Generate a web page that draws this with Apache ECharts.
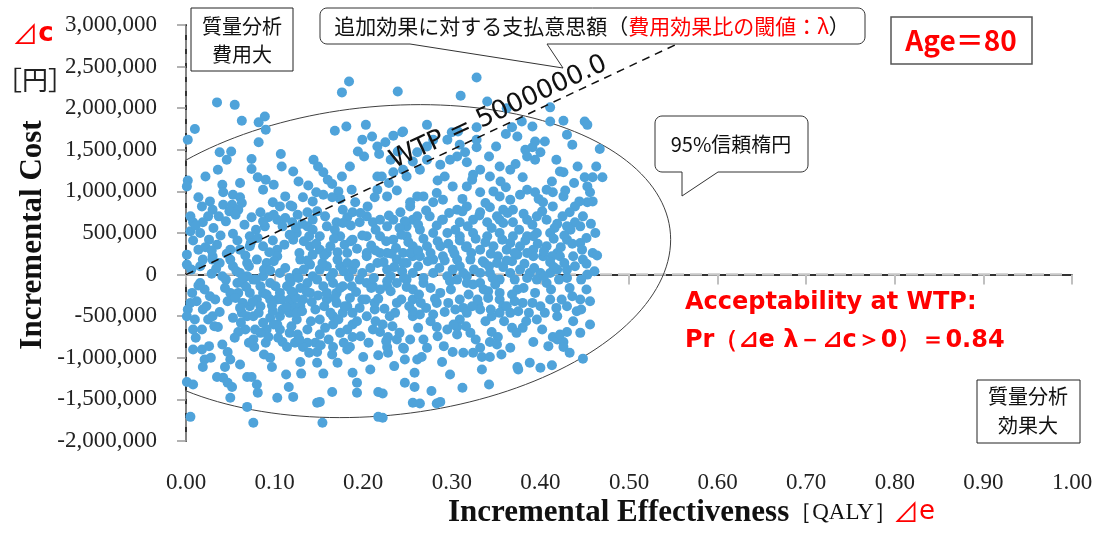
<!DOCTYPE html>
<html><head><meta charset="utf-8">
<script src="https://cdn.jsdelivr.net/npm/echarts/dist/echarts.min.js"></script>
<style>html,body{margin:0;padding:0;background:#fff}#c{width:1099px;height:533px}</style>
</head><body><div id="c"></div>
<script>
// Monte-Carlo simulation points: [incremental effectiveness (QALY), incremental cost (thousand yen)]
const simPoints = [
[0.176,2190],[0.184,2320],[0.239,2200],[0.035,2070],[0.055,2040],[0.063,1850],[0.082,1830],[0.089,1900],[0.090,1740],[0.010,1750],
[0.002,1620],[0.082,1590],[0.168,1730],[0.181,1780],[0.203,1800],[0.199,1620],[0.210,1660],[0.216,1540],[0.225,1590],[0.234,1670],
[0.244,1710],[0.194,1480],[0.218,1450],[0.231,1380],[0.239,1480],[0.038,1470],[0.051,1480],[0.046,1380],[0.107,1450],[0.074,1390],
[0.074,1270],[0.036,1260],[0.121,1240],[0.185,1300],[0.144,1380],[0.149,1300],[0.155,1230],[0.160,1140],[0.165,1090],[0.081,1170],
[0.090,1140],[0.087,1020],[0.099,1080],[0.041,1080],[0.002,1130],[0.001,1060],[0.216,1180],[0.221,1180],[0.234,1230],[0.245,1260],
[0.216,1020],[0.227,940],[0.213,930],[0.172,1000],[0.187,1020],[0.174,910],[0.138,1070],[0.132,930],[0.143,880],[0.155,960],
[0.165,930],[0.042,990],[0.053,960],[0.061,930],[0.014,930],[0.018,820],[0.030,780],[0.042,840],[0.052,840],[0.049,760],
[0.037,700],[0.059,780],[0.025,700],[0.005,700],[0.008,630],[0.019,630],[0.005,520],[0.016,500],[0.026,420],[0.014,300],
[0.001,240],[0.035,360],[0.053,490],[0.072,460],[0.074,690],[0.084,750],[0.093,690],[0.089,580],[0.098,870],[0.106,820],
[0.120,820],[0.103,660],[0.109,580],[0.120,630],[0.126,720],[0.137,750],[0.143,660],[0.148,760],[0.125,500],[0.137,580],
[0.121,420],[0.143,540],[0.151,460],[0.159,580],[0.170,630],[0.177,780],[0.182,690],[0.188,750],[0.196,630],[0.204,700],
[0.211,630],[0.219,660],[0.227,580],[0.234,660],[0.242,750],[0.253,820],[0.256,660],[0.261,940],[0.204,460],[0.219,460],
[0.234,420],[0.249,460],[0.256,340],[0.188,420],[0.174,460],[0.163,340],[0.151,300],[0.140,340],[0.087,340],[0.072,340],
[0.061,300],[0.050,300],[0.103,300],[0.182,260],[0.204,260],[0.227,260],[0.245,260],[0.030,220],
[0.001,120],[0.016,100],[0.029,10],[0.041,-20],[0.016,-100],[0.021,-180],[0.027,-260],[0.012,-320],[0.005,-340],[0.002,-420],
[0.001,-500],[0.010,-540],[0.019,-420],[0.025,-540],[0.008,-660],[0.018,-660],[0.036,-630],[0.050,-220],[0.047,-320],[0.053,-520],
[0.041,-840],[0.047,-930],[0.050,-1020],[0.044,-1110],[0.008,-900],[0.018,-900],[0.021,-1020],[0.019,-1110],[0.035,-1230],[0.042,-1240],
[0.047,-1300],[0.052,-1350],[0.050,-1480],[0.001,-1290],[0.008,-1320],[0.005,-1710],[0.069,-1230],[0.074,-1230],[0.080,-1320],[0.081,-1420],
[0.069,-1590],[0.076,-1780],[0.103,-1480],[0.121,-1470],[0.095,-1000],[0.097,-1110],[0.090,-820],[0.077,-870],[0.129,-1050],[0.130,-1190],
[0.148,-1060],[0.155,-1190],[0.148,-930],[0.146,-820],[0.151,-720],[0.165,-960],[0.166,-870],[0.182,-900],[0.185,-870],[0.200,-990],
[0.208,-1140],[0.217,-970],[0.228,-940],[0.148,-1540],[0.151,-1530],[0.165,-1410],[0.193,-1300],[0.193,-1420],[0.217,-1410],[0.222,-1430],
[0.154,-1780],[0.217,-1710],[0.222,-1720],[0.256,-1540],[0.258,-1350],[0.258,-1180],[0.261,-1020],[0.253,-780],[0.246,-890],[0.238,-780],
[0.228,-750],[0.227,-870],[0.219,-690],[0.211,-660],[0.222,-600],[0.230,-500],[0.238,-340],[0.256,-500],[0.264,-480],[0.213,-420],
[0.213,-340],[0.204,-500],[0.199,-300],[0.188,-600],[0.188,-750],[0.182,-660],[0.174,-700],[0.166,-600],[0.166,-500],[0.177,-460],
[0.188,-460],[0.170,-340],[0.182,-380],[0.185,-280],[0.159,-300],[0.159,-220],[0.170,-220],[0.177,-140],[0.166,-100],[0.155,-140],
[0.146,-420],[0.151,-540],[0.137,-660],[0.125,-540],[0.117,-700],[0.109,-810],[0.114,-870],[0.123,-820],[0.137,-820],[0.132,-870],
[0.126,-720],[0.106,-660],[0.103,-600],[0.106,-500],[0.095,-520],[0.091,-660],[0.093,-750],[0.098,-440],[0.109,-420],[0.117,-460],
[0.121,-380],[0.117,-300],[0.103,-300],[0.106,-220],[0.114,-140],[0.121,-220],[0.129,-160],[0.132,-300],[0.140,-220],[0.137,-100],
[0.143,-20],[0.151,60],[0.159,100],[0.166,20],[0.174,100],[0.182,140],[0.188,60],[0.196,-60],[0.204,-100],[0.211,-140],
[0.219,-180],[0.227,-140],[0.238,-100],[0.249,-60],[0.256,20],[0.227,60],[0.216,140],[0.204,220],[0.219,260],[0.238,180],
[0.249,140],[0.256,220],[0.159,260],[0.143,240],[0.140,120],[0.129,180],[0.125,20],[0.117,-40],[0.106,20],[0.103,220],
[0.091,140],[0.087,-20],[0.095,-100],[0.084,-140],[0.087,-220],[0.076,-60],[0.069,-20],[0.061,20],[0.064,-100],[0.072,-220],
[0.080,-300],[0.072,-380],[0.069,-500],[0.076,-500],[0.064,-340],[0.063,-460],[0.059,-220],[0.058,-100],[0.053,100],[0.050,180],
[0.069,140],[0.080,180],[0.038,140],[0.030,180],[0.084,-380],[0.095,-300],[0.087,-580],[0.078,-660],[0.076,-780],[0.067,-660],
[0.059,-690],[0.030,-500],[0.129,-380],[0.125,-460],
[0.328,2370],[0.310,2150],[0.340,2080],[0.362,2000],[0.411,2010],[0.426,1850],[0.450,1840],[0.453,1800],[0.467,1510],[0.411,1840],
[0.391,1780],[0.379,1840],[0.368,1770],[0.328,1770],[0.307,1720],[0.300,1710],[0.295,1620],[0.272,1800],[0.245,1720],[0.272,1540],
[0.279,1620],[0.309,1560],[0.328,1620],[0.328,1530],[0.350,1540],[0.361,1690],[0.374,1660],[0.394,1600],[0.405,1600],[0.430,1680],
[0.436,1560],[0.383,1500],[0.385,1420],[0.394,1380],[0.400,1470],[0.391,1530],[0.442,1300],[0.426,1230],[0.422,1240],[0.450,1170],
[0.459,1170],[0.470,1170],[0.453,1060],[0.456,990],[0.459,880],[0.453,870],[0.439,820],[0.433,750],[0.439,630],[0.462,500],
[0.445,380],[0.459,260],[0.430,580],[0.414,820],[0.414,990],[0.413,1120],[0.407,1020],[0.394,990],[0.385,1020],[0.380,1170],
[0.366,1260],[0.354,1300],[0.343,1180],[0.332,1260],[0.324,1200],[0.317,1350],[0.306,1420],[0.298,1380],[0.315,1470],[0.292,1180],
[0.287,1320],[0.272,1380],[0.264,1260],[0.249,1180],[0.261,1470],[0.301,1060],[0.317,1060],[0.323,1140],[0.332,990],[0.347,1000],
[0.354,940],[0.366,900],[0.377,960],[0.369,780],[0.358,780],[0.343,810],[0.332,750],[0.317,820],[0.306,780],[0.290,900],
[0.279,870],[0.268,940],[0.253,870],[0.261,700],[0.275,700],[0.290,660],[0.309,630],[0.324,660],[0.340,630],[0.354,660],
[0.369,630],[0.385,660],[0.396,700],[0.407,660],[0.396,500],[0.385,460],[0.369,460],[0.354,500],[0.340,460],[0.324,500],
[0.309,460],[0.295,500],[0.279,500],[0.264,540],[0.249,580],[0.272,340],[0.287,340],[0.301,300],[0.317,340],[0.332,300],
[0.347,340],[0.362,300],[0.377,340],[0.392,300],[0.407,340],[0.419,260],[0.430,420],[0.445,580],[0.411,500],[0.426,940],
[0.403,870],
[0.464,230],[0.448,180],[0.437,220],[0.422,220],[0.413,220],[0.403,220],[0.392,220],[0.385,260],[0.374,240],[0.368,160],
[0.352,220],[0.351,140],[0.335,160],[0.321,180],[0.306,180],[0.290,220],[0.279,180],[0.264,220],[0.253,260],[0.245,140],
[0.279,20],[0.295,-20],[0.301,60],[0.317,-20],[0.332,20],[0.343,20],[0.354,-60],[0.366,20],[0.377,60],[0.388,20],
[0.400,20],[0.411,20],[0.419,60],[0.430,60],[0.430,-40],[0.453,0],[0.407,-100],[0.396,-60],[0.385,-40],[0.374,-180],
[0.354,-220],[0.341,-200],[0.332,-100],[0.324,-120],[0.317,-100],[0.306,-60],[0.287,-220],[0.268,-100],[0.256,-180],[0.256,-300],
[0.283,-340],[0.296,-340],[0.309,-300],[0.313,-400],[0.330,-360],[0.341,-280],[0.354,-300],[0.358,-380],[0.354,-460],[0.366,-460],
[0.375,-440],[0.380,-340],[0.391,-340],[0.400,-380],[0.411,-300],[0.419,-500],[0.430,-380],[0.436,-260],[0.445,-300],[0.456,-320],
[0.441,-440],[0.396,-540],[0.380,-640],[0.368,-640],[0.345,-500],[0.332,-420],[0.317,-460],[0.309,-540],[0.306,-630],[0.295,-660],
[0.283,-630],[0.279,-480],[0.256,-440],[0.306,-720],[0.321,-700],[0.345,-690],[0.352,-750],[0.343,-810],[0.351,-840],[0.366,-880],
[0.392,-810],[0.414,-750],[0.419,-780],[0.426,-810],[0.426,-870],[0.430,-690],[0.422,-720],[0.268,-780],[0.272,-880],[0.245,-880],
[0.266,-990],[0.247,-1020],[0.301,-930],[0.313,-940],[0.324,-940],[0.332,-880],[0.334,-990],[0.343,-990],[0.334,-1140],[0.374,-1110],
[0.375,-1140],[0.400,-1120],[0.413,-1090],[0.448,-1010],[0.312,-1360],[0.342,-1320],[0.264,-1550],[0.283,-1550],[0.287,-1530]
];
// points in the densely overlapped core of the cloud (estimated where markers overlap)
const simPointsCore = [
[0.027,880],[0.063,860],[0.112,940],[0.147,990],[0.191,870],[0.238,1010],[0.283,980],[0.312,910],[0.338,860],[0.361,1050],
[0.398,910],[0.428,1010],[0.444,880],[0.118,830],[0.205,820],
[0.011,590],[0.031,560],[0.045,640],[0.066,600],[0.079,540],[0.099,720],[0.112,680],[0.131,610],[0.157,700],[0.168,540],
[0.186,590],[0.197,740],[0.214,540],[0.229,710],[0.247,640],[0.262,600],[0.271,770],[0.283,590],[0.297,740],[0.304,540],
[0.318,580],[0.331,710],[0.345,560],[0.358,620],[0.363,740],[0.376,540],[0.391,600],[0.402,760],[0.419,610],[0.425,700],
[0.434,540],[0.448,700],[0.457,610],[0.056,720],[0.087,640],[0.124,560],[0.177,620],[0.241,560],[0.289,660],[0.312,760],
[0.351,700],[0.381,730],[0.416,560],
[0.008,410],[0.022,330],[0.039,470],[0.046,250],[0.058,410],[0.067,230],[0.081,440],[0.094,270],[0.098,410],[0.111,360],
[0.117,480],[0.128,260],[0.133,400],[0.147,370],[0.156,230],[0.167,430],[0.171,270],[0.179,360],[0.193,310],[0.199,470],
[0.209,350],[0.214,290],[0.226,400],[0.237,320],[0.243,480],[0.251,390],[0.262,290],[0.268,430],[0.276,260],[0.284,400],
[0.296,370],[0.303,250],[0.309,410],[0.322,260],[0.327,430],[0.338,390],[0.344,250],[0.357,420],[0.366,380],[0.371,260],
[0.383,410],[0.397,370],[0.404,280],[0.415,430],[0.423,330],[0.436,370],[0.447,300],[0.452,440],[0.029,290],[0.073,380],
[0.139,460],[0.186,400],[0.232,250],[0.316,330],[0.392,460],[0.427,470],
[0.006,60],[0.019,180],[0.034,70],[0.045,-60],[0.057,40],[0.071,100],[0.079,-60],[0.088,60],[0.099,160],[0.112,80],
[0.118,-90],[0.133,60],[0.137,170],[0.148,-60],[0.154,140],[0.163,-30],[0.171,180],[0.178,40],[0.191,130],[0.199,20],
[0.208,80],[0.212,-40],[0.223,150],[0.231,-20],[0.235,90],[0.244,40],[0.262,100],[0.268,-40],[0.273,160],[0.286,80],
[0.292,170],[0.298,-80],[0.309,100],[0.313,20],[0.325,60],[0.337,140],[0.346,-40],[0.358,90],[0.362,170],[0.371,-60],
[0.382,130],[0.393,80],[0.404,-20],[0.411,150],[0.421,-60],[0.427,140],[0.439,100],[0.446,-60],[0.452,130],[0.461,40],
[0.064,-40],[0.095,50],[0.127,-40],[0.184,-30],[0.246,-40],[0.342,100],[0.415,90],
[0.007,-220],[0.014,-130],[0.023,-380],[0.033,-300],[0.038,-450],[0.044,-160],[0.056,-280],[0.061,-400],[0.068,-150],[0.075,-330],
[0.082,-460],[0.091,-240],[0.097,-370],[0.101,-140],[0.108,-300],[0.113,-390],[0.124,-280],[0.131,-440],[0.136,-200],[0.142,-330],
[0.149,-250],[0.156,-380],[0.163,-460],[0.168,-280],[0.174,-160],[0.179,-380],[0.192,-210],[0.196,-400],[0.203,-300],[0.209,-160],
[0.217,-290],[0.224,-410],[0.231,-200],[0.236,-460],[0.243,-300],[0.249,-150],[0.252,-380],[0.263,-240],[0.271,-400],[0.276,-160],
[0.281,-290],[0.292,-450],[0.299,-180],[0.304,-420],[0.319,-240],[0.323,-380],[0.336,-180],[0.344,-420],[0.349,-120],[0.362,-380],
[0.368,-240],[0.381,-160],[0.387,-460],[0.394,-220],[0.405,-460],[0.412,-180],[0.424,-300],[0.433,-160],[0.446,-420],[0.452,-180],
[0.119,-200],[0.187,-140],[0.227,-80],[0.265,-340],[0.329,-300],[0.371,-320],[0.418,-400],
[0.011,-760],[0.026,-860],[0.032,-620],[0.055,-760],[0.062,-580],[0.071,-820],[0.084,-700],[0.099,-600],[0.104,-760],[0.119,-620],
[0.128,-780],[0.141,-560],[0.157,-640],[0.161,-780],[0.172,-540],[0.178,-820],[0.193,-560],[0.197,-740],[0.206,-820],[0.214,-560],
[0.233,-620],[0.241,-700],[0.262,-640],[0.276,-560],[0.284,-740],[0.291,-860],[0.302,-600],[0.316,-620],[0.327,-780],[0.338,-560],
[0.359,-560],[0.373,-700],[0.384,-560],[0.402,-660],[0.409,-860],[0.437,-560],[0.445,-700],[0.456,-600],[0.152,-850],[0.226,-800],
[0.022,1180],[0.061,1100],[0.108,1300],[0.127,1120],[0.176,1180],[0.201,1420],[0.229,1100],[0.256,1360],[0.284,1130],[0.342,1420],
[0.355,1120],[0.372,1330],[0.418,1380],[0.438,1100],[0.463,1300],
[0.028,-1000],[0.061,-1080],[0.088,-960],[0.113,-1200],[0.139,-940],[0.171,-1060],[0.188,-1180],[0.235,-1100],[0.247,-1300],[0.289,-1050],
[0.298,-1200],[0.356,-960],[0.388,-1060],[0.433,-940],[0.116,-1350],[0.277,-1400]
];

// Axis settings
const xMin = 0, xMax = 1, xStep = 0.1;
const yMin = -2000000, yMax = 3000000, yStep = 500000;

// Willingness to pay threshold (yen per QALY)
const wtpLambda = 5000000;
const acceptability = 0.84;

// 95% confidence ellipse parameters (data units)
const ellCenterX = 0.219, ellCenterY = 162000;
const ellAxisUx = 0.328, ellAxisUy = 258400;   // conjugate semi-axis U
const ellAxisVy = 1863000;                      // conjugate semi-axis V (vertical)

const scatterData = simPoints.concat(simPointsCore).map(p => [p[0], p[1] * 1000]);

const ellipseData = [];
for (let d = 0; d <= 360; d += 2) {
  const t = d * Math.PI / 180;
  ellipseData.push([ellCenterX + ellAxisUx * Math.cos(t),
                    ellCenterY + ellAxisUy * Math.cos(t) + ellAxisVy * Math.sin(t)]);
}
const wtpData = [[0, 0], [yMax / wtpLambda, yMax]];

function callout(x1, y1, x2, y2, r, tail) {
  const pts = [];
  const arc = (cx, cy, a0) => { for (let k = 0; k <= 6; k++) { const a = a0 + k * Math.PI / 12; pts.push([cx + r * Math.cos(a), cy + r * Math.sin(a)]); } };
  arc(x1 + r, y1 + r, Math.PI);
  arc(x2 - r, y1 + r, 1.5 * Math.PI);
  arc(x2 - r, y2 - r, 0);
  tail.forEach(p => pts.push(p));
  arc(x1 + r, y2 - r, 0.5 * Math.PI);
  return pts;
}

const JP = '"Noto Sans CJK JP"';
const RED = '#ff0000';
function txt(x, y, text, font, fill, align, extra) {
  return Object.assign({
    type: 'text', x: x, y: y, z: 100,
    style: Object.assign({ text: text, font: font, fill: fill || '#111',
      textAlign: align || 'center', align: align || 'center',
      textVerticalAlign: 'middle', verticalAlign: 'middle' }, (extra && extra.style) || {})
  }, (extra && extra.el) || {});
}

const chart = echarts.init(document.getElementById('c'));
chart.setOption({
  animation: false,
  backgroundColor: '#fff',
  grid: { left: 186, right: 27, top: 25, bottom: 92, containLabel: false },
  xAxis: {
    type: 'value', min: xMin, max: xMax, interval: xStep, offset: 15,
    axisLine: { show: true, lineStyle: { color: '#333', width: 2 } },
    axisTick: { show: true, length: 10, lineStyle: { color: '#c0c0c0', width: 2 } },
    axisLabel: { formatter: v => v.toFixed(2), fontFamily: '"Liberation Serif"', fontSize: 23, color: '#222', margin: 15 },
    splitLine: { show: false }
  },
  yAxis: {
    type: 'value', min: yMin, max: yMax, interval: yStep, offset: 13,
    axisLine: { show: true, lineStyle: { color: '#333', width: 2 } },
    axisTick: { show: true, length: 9, lineStyle: { color: '#999', width: 1.5 } },
    axisLabel: { formatter: v => v.toLocaleString('en-US'), fontFamily: '"Liberation Serif"', fontSize: 23, color: '#222', margin: 16 },
    splitLine: { show: false }
  },
  series: [
    { type: 'line', data: [[xMin, 0], [0.995, 0]], symbol: 'none', z: 1,
      lineStyle: { color: '#c8c8c8', width: 2.5, type: [12, 6] } },
    { type: 'line', data: [[0, yMin], [0, yMax]], symbol: 'none', z: 1,
      lineStyle: { color: '#a0a0a0', width: 1.5, type: [9, 5] } },
    { type: 'line', data: ellipseData, symbol: 'none', clip: true, z: 2,
      lineStyle: { color: '#404040', width: 1 } },
    { type: 'scatter', data: scatterData, symbolSize: 10, z: 3,
      itemStyle: { color: '#4fa3da', opacity: 1 } },
    { type: 'line', data: wtpData, symbol: 'none', clip: true, z: 4,
      lineStyle: { color: '#111', width: 1.5, type: [8, 6] } }
  ],
  graphic: [
    txt(33, 34, '{t|⊿}{c|c}', '26px ' + JP, RED, 'center', { style: { rich: {
      t: { fontSize: 26, fontFamily: 'Noto Sans CJK JP', fill: RED },
      c: { fontSize: 26, fontFamily: 'DejaVu Sans', fontWeight: 'bold', fill: RED } } } }),
    txt(35, 80, '［円］', '26px ' + JP, '#222'),
    txt(33, 235, 'Incremental Cost', 'bold 31px "Liberation Serif"', '#111', 'center', { el: { rotation: Math.PI / 2 } }),
    txt(448, 513, '{b|Incremental Effectiveness}{q|［QALY］}', 'bold 31px "Liberation Serif"', '#111', 'left', { style: { rich: {
      b: { fontSize: 31, fontFamily: 'Liberation Serif', fontWeight: 'bold', fill: '#111' },
      q: { fontSize: 23, fontFamily: 'Liberation Serif', fill: '#111' } } } }),
    txt(893, 512, '{t|⊿}{c|e}', '26px ' + JP, RED, 'left', { style: { rich: {
      t: { fontSize: 26, fontFamily: 'Noto Sans CJK JP', fill: RED },
      c: { fontSize: 26, fontFamily: 'DejaVu Sans', fill: RED } } } }),
    { type: 'rect', z: 99, shape: { x: 191, y: 8, width: 102, height: 63 }, style: { fill: '#fff', stroke: '#222', lineWidth: 1 } },
    txt(242, 40, '質量分析\n費用大', '20px ' + JP, '#111', 'center', { style: { lineHeight: 28 } }),
    { type: 'rect', z: 99, shape: { x: 977, y: 380, width: 103, height: 63 }, style: { fill: '#fff', stroke: '#222', lineWidth: 1 } },
    txt(1028, 411, '質量分析\n効果大', '20px ' + JP, '#111', 'center', { style: { lineHeight: 29 } }),
    { type: 'rect', z: 99, shape: { x: 891, y: 17, width: 141, height: 47 }, style: { fill: '#fff', stroke: '#555', lineWidth: 1.5 } },
    txt(961, 40, 'Age＝80', 'bold 28px ' + JP, RED),
    { type: 'polygon', z: 99, shape: { points: callout(320, 8, 865, 44, 7, [[547, 44], [563, 68], [410, 44]]) },
      style: { fill: '#fff', stroke: '#333', lineWidth: 1 } },
    txt(592, 26, '{b|追加効果に対する支払意思額（}{r|費用効果比の閾値：λ}{b|）}', '21px ' + JP, '#111', 'center', { style: { rich: {
      b: { fontSize: 21, fontFamily: 'Noto Sans CJK JP', fill: '#111' },
      r: { fontSize: 21, fontFamily: 'Noto Sans CJK JP', fill: RED } } } }),
    { type: 'polygon', z: 99, shape: { points: callout(655, 116, 808, 172, 7, [[718, 172], [682, 196], [682, 172]]) },
      style: { fill: '#fff', stroke: '#333', lineWidth: 1 } },
    txt(731, 144, '95%信頼楕円', '20px ' + JP, '#111'),
    { type: 'text', z: 100, x: 397, y: 174, rotation: 0.435,
      style: { text: 'WTP = 5000000.0', font: '26px "DejaVu Sans"', fill: '#111',
        textAlign: 'left', align: 'left', textVerticalAlign: 'bottom', verticalAlign: 'bottom' } },
    txt(685, 303, 'Acceptability at WTP:', 'bold 24px "DejaVu Sans"', RED, 'left'),
    txt(685, 341, 'Pr（⊿e λ－⊿c＞0）＝' + acceptability.toFixed(2), 'bold 24px "DejaVu Sans"', RED, 'left')
  ]
});
</script>
</body></html>
